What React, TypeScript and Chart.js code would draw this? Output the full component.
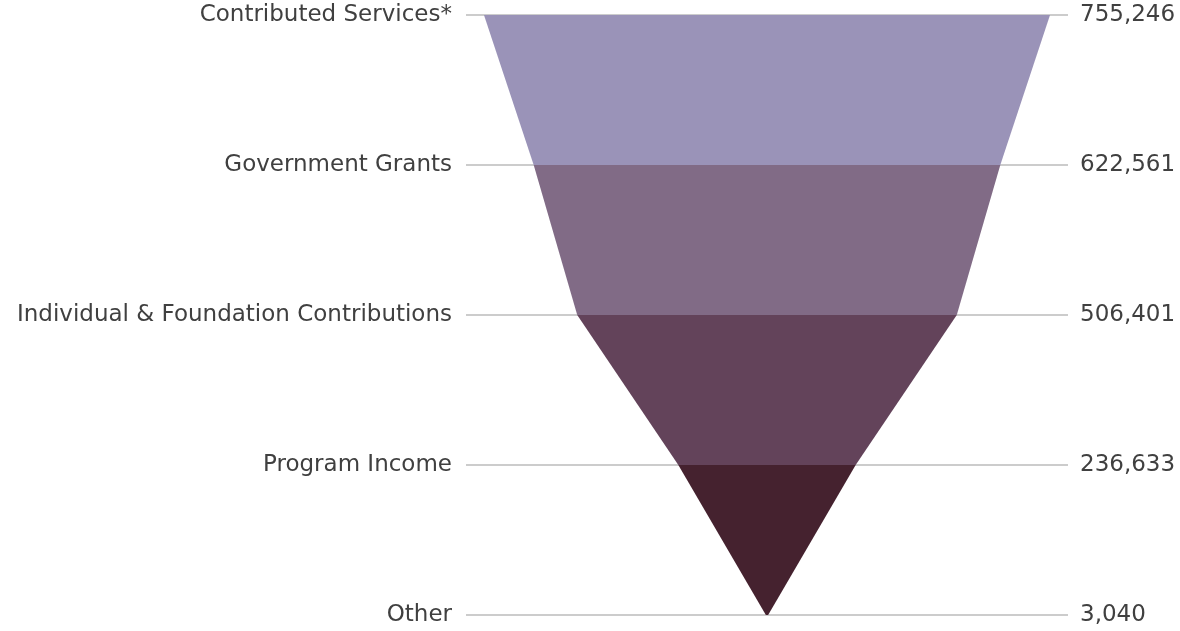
import React, { useEffect, useRef } from "react";
import { Chart, registerables } from "chart.js";

Chart.register(...registerables);

const categories = [
  "Contributed Services*",
  "Government Grants",
  "Individual & Foundation Contributions",
  "Program Income",
  "Other",
];
const values = [755246, 622561, 506401, 236633, 3040];
const valueLabels = ["755,246", "622,561", "506,401", "236,633", "3,040"];
const colors = ["#9a93b8", "#816b86", "#63435a", "#45222f"];

export default function App() {
  const ref = useRef<HTMLCanvasElement | null>(null);

  useEffect(() => {
    document.body.style.margin = "0";
    if (!ref.current) return;
    const datasets: any[] = [];
    for (let i = 0; i < values.length - 1; i++) {
      const leftIndex = datasets.length + 1;
      datasets.push({
        label: categories[i] + " R",
        data: [
          { x: values[i] / 2, y: i },
          { x: values[i + 1] / 2, y: i + 1 },
        ],
        backgroundColor: colors[i],
        borderWidth: 0,
        pointRadius: 0,
        showLine: true,
        tension: 0,
        fill: leftIndex,
      });
      datasets.push({
        label: categories[i] + " L",
        data: [
          { x: -values[i] / 2, y: i },
          { x: -values[i + 1] / 2, y: i + 1 },
        ],
        backgroundColor: colors[i],
        borderWidth: 0,
        pointRadius: 0,
        showLine: true,
        tension: 0,
        fill: false,
      });
    }
    const half = 401600;
    const font = { family: "'DejaVu Sans', sans-serif", size: 23 };
    const fitY = (w: number) => (s: any) => {
      s.width = w;
      s.paddingTop = 0;
      s.paddingBottom = 0;
    };
    const chart = new Chart(ref.current, {
      type: "scatter",
      data: { datasets },
      options: {
        animation: false,
        responsive: true,
        maintainAspectRatio: false,
        indexAxis: "y",
        layout: { padding: { top: 15, bottom: 16, left: 0, right: 0 } },
        plugins: {
          legend: { display: false },
          tooltip: { enabled: false },
        },
        scales: {
          x: { type: "linear", min: -half, max: half, display: false },
          y: {
            type: "linear",
            position: "left",
            reverse: true,
            min: 0,
            max: 4,
            afterFit: fitY(466),
            ticks: {
              stepSize: 1,
              padding: 14,
              color: "#404040",
              font,
              callback: (v: any) => categories[Number(v)] ?? "",
            },
            grid: { color: "#cccccc", lineWidth: 2, drawTicks: false },
            border: { display: false },
          },
          y2: {
            type: "linear",
            position: "right",
            display: true,
            reverse: true,
            min: 0,
            max: 4,
            afterFit: fitY(112),
            ticks: {
              stepSize: 1,
              padding: 12,
              color: "#404040",
              font,
              callback: (v: any) => valueLabels[Number(v)] ?? "",
            },
            grid: { display: false, drawTicks: false },
            border: { display: false },
          },
        },
      } as any,
    });
    return () => chart.destroy();
  }, []);

  return (
    <div style={{ width: 1180, height: 631, position: "relative" }}>
      <canvas ref={ref} />
    </div>
  );
}
